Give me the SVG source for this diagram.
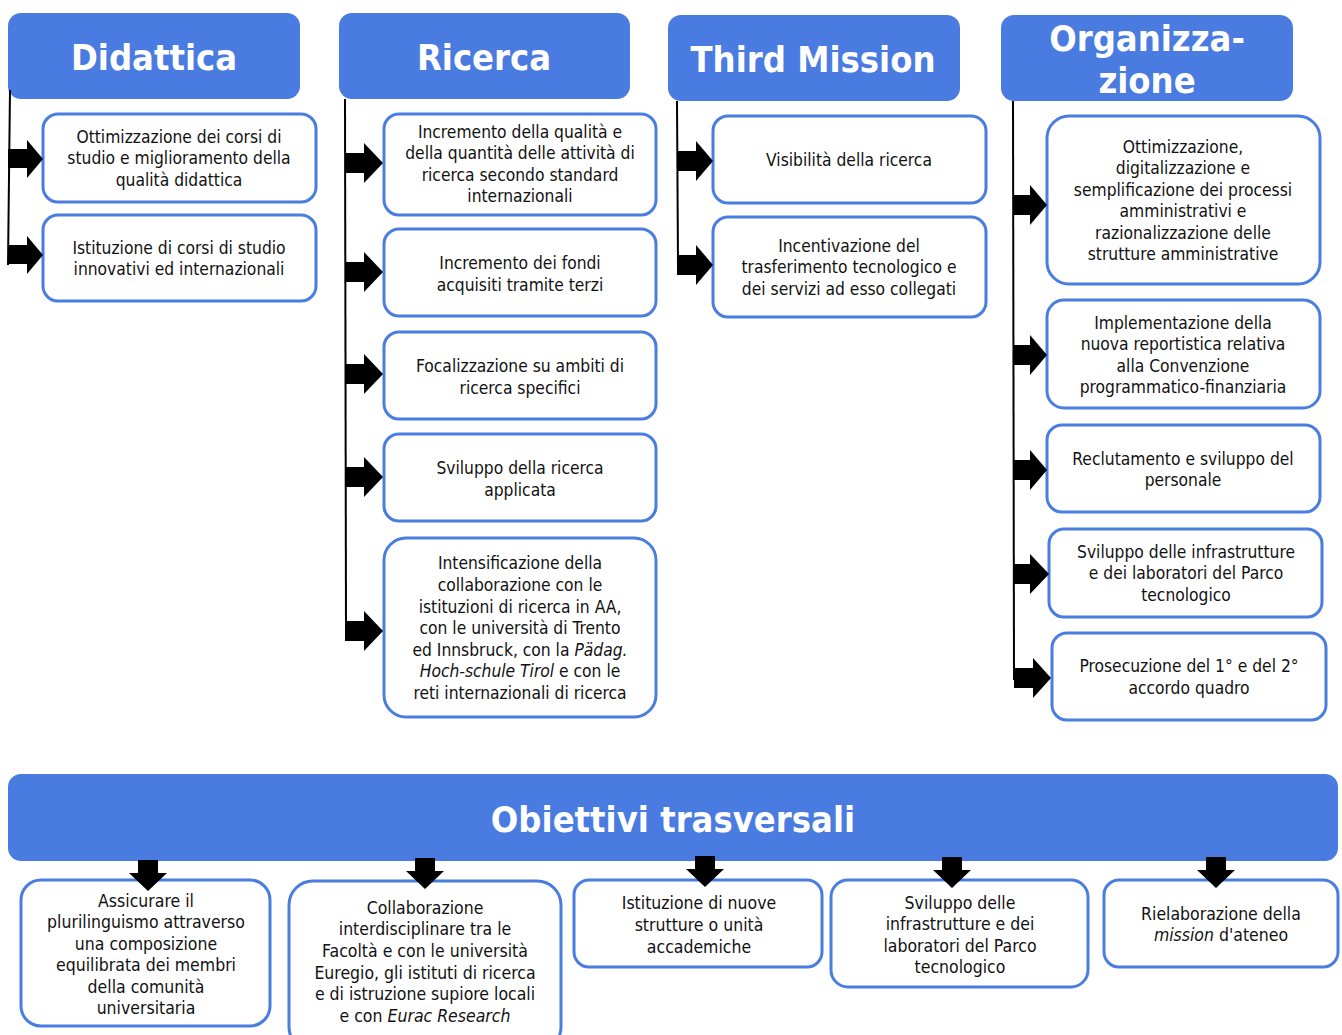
<svg xmlns="http://www.w3.org/2000/svg" width="1342" height="1035" viewBox="0 0 1342 1035">
<style>
.hdr{fill:#497be0}
.box{fill:#fff;stroke:#4a7de0;stroke-width:3}
.ht{font-family:"DejaVu Sans Condensed","DejaVu Sans",sans-serif;font-weight:bold;fill:#fff;text-anchor:middle;font-size:36px}
.t{font-family:"DejaVu Sans Condensed","DejaVu Sans",sans-serif;font-size:17.3px;fill:#111;text-anchor:middle}
.b{font-family:"DejaVu Sans Condensed","DejaVu Sans",sans-serif;font-size:17.5px;fill:#111;text-anchor:middle}
.ln{stroke:#000;stroke-width:2;fill:none}
.ar{fill:#000}
</style>
<rect width="1342" height="1035" fill="#fff"/>
<g id="h-didattica"><rect class="hdr" x="8" y="13" width="292" height="86" rx="13"/><text class="ht" x="154" y="70">Didattica</text></g>
<g id="h-ricerca"><rect class="hdr" x="339" y="13" width="291" height="86" rx="13"/><text class="ht" x="484" y="70">Ricerca</text></g>
<g id="h-third"><rect class="hdr" x="668" y="15" width="292" height="86" rx="13"/><text class="ht" x="813" y="72">Third Mission</text></g>
<g id="h-org"><rect class="hdr" x="1001" y="15" width="292" height="86" rx="13"/><text class="ht" x="1147" y="51">Organizza-</text><text class="ht" x="1147" y="93">zione</text></g>

<g id="d1"><rect class="box" x="43" y="114" width="273" height="88" rx="15"/><text class="t" x="179" y="143">Ottimizzazione dei corsi di</text><text class="t" x="179" y="164">studio e miglioramento della</text><text class="t" x="179" y="186">qualità didattica</text></g>
<g id="d2"><rect class="box" x="43" y="215" width="273" height="86" rx="15"/><text class="t" x="179" y="254">Istituzione di corsi di studio</text><text class="t" x="179" y="275">innovativi ed internazionali</text></g>

<g id="r1"><rect class="box" x="384" y="114" width="272" height="101" rx="15"/><text class="t" x="520" y="138">Incremento della qualità e</text><text class="t" x="520" y="159">della quantità delle attività di</text><text class="t" x="520" y="181">ricerca secondo standard</text><text class="t" x="520" y="202">internazionali</text></g>
<g id="r2"><rect class="box" x="384" y="229" width="272" height="87" rx="15"/><text class="t" x="520" y="269">Incremento dei fondi</text><text class="t" x="520" y="291">acquisiti tramite terzi</text></g>
<g id="r3"><rect class="box" x="384" y="332" width="272" height="87" rx="15"/><text class="t" x="520" y="372">Focalizzazione su ambiti di</text><text class="t" x="520" y="394">ricerca specifici</text></g>
<g id="r4"><rect class="box" x="384" y="434" width="272" height="87" rx="15"/><text class="t" x="520" y="474">Sviluppo della ricerca</text><text class="t" x="520" y="496">applicata</text></g>
<g id="r5"><rect class="box" x="384" y="538" width="272" height="179" rx="22"/><text class="t" x="520" y="569">Intensificazione della</text><text class="t" x="520" y="591">collaborazione con le</text><text class="t" x="520" y="613">istituzioni di ricerca in AA,</text><text class="t" x="520" y="634">con le università di Trento</text><text class="t" x="520" y="656">ed Innsbruck, con la <tspan font-style="italic">Pädag.</tspan></text><text class="t" x="520" y="677"><tspan font-style="italic">Hoch-schule Tirol</tspan>  e con le</text><text class="t" x="520" y="699">reti internazionali di ricerca</text></g>

<g id="t1"><rect class="box" x="713" y="116" width="273" height="87" rx="15"/><text class="t" x="849" y="166">Visibilità della ricerca</text></g>
<g id="t2"><rect class="box" x="713" y="217" width="273" height="100" rx="15"/><text class="t" x="849" y="252">Incentivazione del</text><text class="t" x="849" y="273">trasferimento tecnologico e</text><text class="t" x="849" y="295">dei servizi ad esso collegati</text></g>

<g id="o1"><rect class="box" x="1047" y="116" width="273" height="168" rx="22"/><text class="t" x="1183" y="153">Ottimizzazione,</text><text class="t" x="1183" y="174">digitalizzazione e</text><text class="t" x="1183" y="196">semplificazione dei processi</text><text class="t" x="1183" y="217">amministrativi e</text><text class="t" x="1183" y="239">razionalizzazione delle</text><text class="t" x="1183" y="260">strutture amministrative</text></g>
<g id="o2"><rect class="box" x="1047" y="300" width="273" height="108" rx="17"/><text class="t" x="1183" y="329">Implementazione della</text><text class="t" x="1183" y="350">nuova reportistica relativa</text><text class="t" x="1183" y="372">alla Convenzione</text><text class="t" x="1183" y="393">programmatico-finanziaria</text></g>
<g id="o3"><rect class="box" x="1047" y="425" width="273" height="87" rx="15"/><text class="t" x="1183" y="465">Reclutamento e sviluppo del</text><text class="t" x="1183" y="486">personale</text></g>
<g id="o4"><rect class="box" x="1049" y="529" width="273" height="88" rx="15"/><text class="t" x="1186" y="558">Sviluppo delle infrastrutture</text><text class="t" x="1186" y="579">e dei laboratori del Parco</text><text class="t" x="1186" y="601">tecnologico</text></g>
<g id="o5"><rect class="box" x="1052" y="633" width="274" height="87" rx="15"/><text class="t" x="1189" y="672">Prosecuzione del 1° e del 2°</text><text class="t" x="1189" y="694">accordo quadro</text></g>

<g id="trasv"><rect class="hdr" x="8" y="774" width="1330" height="87" rx="13"/><text class="ht" x="673" y="832">Obiettivi trasversali</text></g>

<g id="b1"><rect class="box" x="21" y="880" width="249" height="146" rx="20"/><text class="b" x="146" y="907">Assicurare il</text><text class="b" x="146" y="928">plurilinguismo attraverso</text><text class="b" x="146" y="950">una composizione</text><text class="b" x="146" y="971">equilibrata dei membri</text><text class="b" x="146" y="993">della comunità</text><text class="b" x="146" y="1014">universitaria</text></g>
<g id="b2"><rect class="box" x="289" y="881" width="272" height="170" rx="24"/><text class="b" x="425" y="914">Collaborazione</text><text class="b" x="425" y="935">interdisciplinare tra le</text><text class="b" x="425" y="957">Facoltà e con le università</text><text class="b" x="425" y="979">Euregio, gli istituti di ricerca</text><text class="b" x="425" y="1000">e di istruzione supiore locali</text><text class="b" x="425" y="1022">e con <tspan font-style="italic">Eurac Research</tspan></text></g>
<g id="b3"><rect class="box" x="574" y="880" width="248" height="87" rx="15"/><text class="b" x="699" y="909">Istituzione di nuove</text><text class="b" x="699" y="931">strutture o unità</text><text class="b" x="699" y="953">accademiche</text></g>
<g id="b4"><rect class="box" x="831" y="880" width="257" height="107" rx="17"/><text class="b" x="960" y="909">Sviluppo delle</text><text class="b" x="960" y="930">infrastrutture e dei</text><text class="b" x="960" y="952">laboratori del Parco</text><text class="b" x="960" y="973">tecnologico</text></g>
<g id="b5"><rect class="box" x="1104" y="880" width="234" height="87" rx="15"/><text class="b" x="1221" y="920">Rielaborazione della</text><text class="b" x="1221" y="941"><tspan font-style="italic">mission</tspan> d'ateneo</text></g>

<g id="connectors">
<path class="ln" d="M10 90 L8 265"/>
<path class="ln" d="M345 99 L346 632"/>
<path class="ln" d="M677 101 L678 266"/>
<path class="ln" d="M1013 101 L1014 680"/>
<polygon class="ar" points="8,149 27,149 27,140 43,159 27,178 27,168 8,168"/>
<polygon class="ar" points="8,245 27,245 27,236 43,255 27,274 27,264 8,264"/>
<polygon class="ar" points="345,153 364,153 364,143 383,163 364,183 364,173 345,173"/>
<polygon class="ar" points="345,262 364,262 364,252 383,272 364,292 364,282 345,282"/>
<polygon class="ar" points="345,364 364,364 364,354 383,374 364,394 364,384 345,384"/>
<polygon class="ar" points="345,467 364,467 364,457 383,477 364,497 364,487 345,487"/>
<polygon class="ar" points="345,621 364,621 364,611 383,631 364,651 364,641 345,641"/>
<polygon class="ar" points="677,151 696,151 696,141 713,161 696,181 696,171 677,171"/>
<polygon class="ar" points="677,255 696,255 696,245 713,265 696,285 696,275 677,275"/>
<polygon class="ar" points="1013,195 1030,195 1030,185 1047,205 1030,225 1030,215 1013,215"/>
<polygon class="ar" points="1013,345 1030,345 1030,335 1047,355 1030,375 1030,365 1013,365"/>
<polygon class="ar" points="1013,460 1030,460 1030,450 1047,470 1030,490 1030,480 1013,480"/>
<polygon class="ar" points="1013,564 1030,564 1030,554 1049,574 1030,594 1030,584 1013,584"/>
<polygon class="ar" points="1014,668 1033,668 1033,658 1051,678 1033,698 1033,688 1014,688"/>
<polygon class="ar" points="138,860 158,860 158,873 167,873 148,891 129,873 138,873"/>
<polygon class="ar" points="415,858 435,858 435,871 444,871 425,889 406,871 415,871"/>
<polygon class="ar" points="695,856 715,856 715,869 724,869 705,887 686,869 695,869"/>
<polygon class="ar" points="942,857 962,857 962,870 971,870 952,888 933,870 942,870"/>
<polygon class="ar" points="1206,857 1226,857 1226,870 1235,870 1216,888 1197,870 1206,870"/>
</g>
</svg>
